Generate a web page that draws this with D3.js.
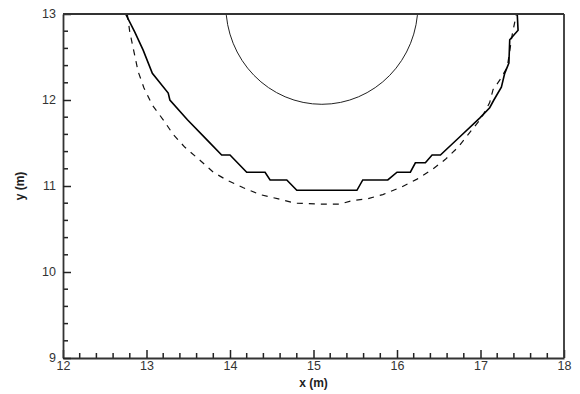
<!DOCTYPE html>
<html>
<head>
<meta charset="utf-8">
<title>y vs x</title>
<script src="https://d3js.org/d3.v7.min.js"></script>
<style>
  body { margin: 0; background: #fff; }
  text { font-family: "Liberation Sans", Arial, sans-serif; }
</style>
</head>
<body>
<svg width="580" height="394"></svg>
<script>
// solid contour (stepped)
const solidX = [12.75, 12.86, 12.96, 13.07, 13.26, 13.28, 13.49, 13.73, 13.90, 14.00, 14.20, 14.42, 14.48, 14.68,
                14.80, 15.52, 15.59, 15.89, 16.00, 16.16, 16.22, 16.34, 16.42, 16.52, 16.75, 16.99, 17.11, 17.16,
                17.25, 17.29, 17.34, 17.35, 17.45, 17.44];
const solidY = [13.00, 12.79, 12.58, 12.31, 12.08, 12.00, 11.77, 11.53, 11.36, 11.36, 11.16, 11.16, 11.07, 11.07,
                10.95, 10.95, 11.07, 11.07, 11.16, 11.16, 11.27, 11.27, 11.36, 11.36, 11.57, 11.79, 11.91, 12.00,
                12.15, 12.31, 12.43, 12.70, 12.81, 13.00];
// dashed contour
const dashX = [12.77, 12.80, 12.85, 12.90, 12.97, 13.07, 13.20, 13.32, 13.46, 13.64, 13.80, 13.96, 14.16, 14.36,
               14.58, 14.78, 15.08, 15.32, 15.46, 15.64, 15.83, 16.06, 16.24, 16.42, 16.58, 16.73, 16.87, 17.01,
               17.11, 17.15, 17.23, 17.32, 17.38, 17.43];
const dashY = [13.00, 12.79, 12.56, 12.33, 12.14, 11.94, 11.77, 11.60, 11.45, 11.30, 11.16, 11.07, 10.98, 10.90,
               10.85, 10.80, 10.79, 10.79, 10.83, 10.85, 10.90, 10.99, 11.08, 11.19, 11.31, 11.45, 11.62, 11.79,
               11.97, 12.12, 12.23, 12.38, 12.76, 13.00];
// circle
const circleCenter = [15.1, 13.1];
const circleRadius = 1.15;

const xTicks = [12, 13, 14, 15, 16, 17, 18];
const yTicks = [9, 10, 11, 12, 13];

const m = {left: 63, right: 16, top: 14, bottom: 36};
const W = 580, H = 394;
const iw = W - m.left - m.right, ih = H - m.top - m.bottom;

const svg = d3.select("svg");
const g = svg.append("g").attr("transform", "translate(" + m.left + "," + m.top + ")");

const x = d3.scaleLinear().domain([12, 18]).range([0, iw]);
const y = d3.scaleLinear().domain([9, 13]).range([ih, 0]);

g.append("clipPath").attr("id", "clip")
  .append("rect").attr("width", iw).attr("height", ih);

const plot = g.append("g").attr("clip-path", "url(#clip)");

plot.append("ellipse")
  .attr("cx", x(circleCenter[0])).attr("cy", y(circleCenter[1]))
  .attr("rx", x(circleCenter[0] + circleRadius) - x(circleCenter[0]))
  .attr("ry", y(circleCenter[1] - circleRadius) - y(circleCenter[1]))
  .attr("fill", "none").attr("stroke", "#222").attr("stroke-width", 1);

const line = d3.line().x(d => x(d[0])).y(d => y(d[1]));

plot.append("path")
  .datum(dashX.map((v, i) => [v, dashY[i]]))
  .attr("d", line)
  .attr("fill", "none").attr("stroke", "#111").attr("stroke-width", 1.2)
  .attr("stroke-dasharray", "6,6");

plot.append("path")
  .datum(solidX.map((v, i) => [v, solidY[i]]))
  .attr("d", line)
  .attr("fill", "none").attr("stroke", "#000").attr("stroke-width", 1.6);

// minor ticks
const minorX = d3.range(12, 18.001, 0.2).filter(v => Math.abs(v - Math.round(v)) > 0.01);
const minorY = d3.range(9, 13.001, 0.2).filter(v => Math.abs(v - Math.round(v)) > 0.01);

g.append("g").selectAll("line").data(minorX).enter().append("line")
  .attr("x1", d => x(d)).attr("x2", d => x(d))
  .attr("y1", ih).attr("y2", ih - 5)
  .attr("stroke", "#222").attr("stroke-width", 1.5);
g.append("g").selectAll("line").data(minorY).enter().append("line")
  .attr("y1", d => y(d)).attr("y2", d => y(d))
  .attr("x1", 0).attr("x2", 5)
  .attr("stroke", "#222").attr("stroke-width", 1.5);

// axes
const xAxis = g.append("g").attr("transform", "translate(0," + ih + ")")
  .call(d3.axisBottom(x).tickValues(xTicks).tickFormat(d3.format("d"))
    .tickSize(-8).tickPadding(3).tickSizeOuter(0));
const yAxis = g.append("g")
  .call(d3.axisLeft(y).tickValues(yTicks).tickFormat(d3.format("d"))
    .tickSize(-8).tickPadding(7).tickSizeOuter(0));

[xAxis, yAxis].forEach(a => {
  a.select(".domain").attr("stroke", "#333").attr("stroke-width", 1.8);
  a.selectAll(".tick line").attr("stroke", "#222").attr("stroke-width", 1.5);
  a.selectAll(".tick text").attr("fill", "#333").style("font-size", "12.5px")
    .style("font-family", '"Liberation Sans", Arial, sans-serif');
});
yAxis.selectAll(".tick text").attr("dy", "0.3em");

// top and right border
g.append("line").attr("x1", 0).attr("x2", iw).attr("y1", 0).attr("y2", 0)
  .attr("stroke", "#333").attr("stroke-width", 1.8);
g.append("line").attr("x1", iw).attr("x2", iw).attr("y1", 0).attr("y2", ih)
  .attr("stroke", "#333").attr("stroke-width", 1.8);

// axis titles
svg.append("text").attr("x", m.left + iw / 2).attr("y", 387)
  .attr("text-anchor", "middle").style("font-size", "12px").style("font-weight", "bold")
  .attr("fill", "#222").text("x (m)");
svg.append("text").attr("transform", "translate(24," + (m.top + ih / 2) + ") rotate(-90)")
  .attr("text-anchor", "middle").style("font-size", "12px").style("font-weight", "bold")
  .attr("fill", "#222").text("y (m)");
</script>
</body>
</html>
